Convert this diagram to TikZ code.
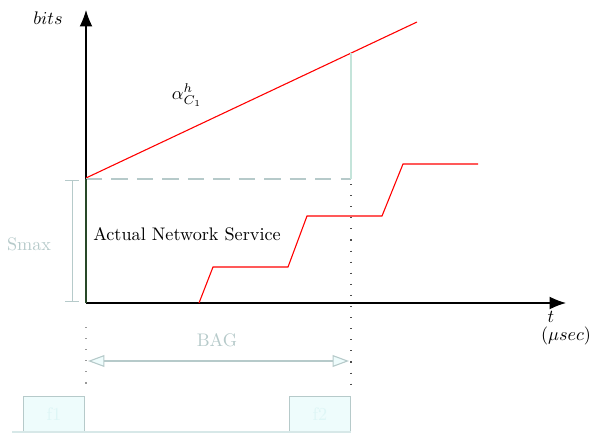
\documentclass[tikz,border=0pt]{standalone}
\usetikzlibrary{arrows.meta}
\definecolor{pale}{RGB}{182,202,202}
\definecolor{mint}{RGB}{196,228,218}
\definecolor{icecyan}{RGB}{238,252,252}
\definecolor{ghost}{RGB}{222,246,246}
\definecolor{deepgreen}{RGB}{40,72,40}
\tikzset{
  axis/.style={black, line width=0.6pt, -{Latex[length=9pt,width=7pt]}},
  curve/.style={red, line width=0.6pt},
  paleline/.style={pale, line width=0.5pt},
  dotline/.style={black!70, line width=0.6pt, dash pattern=on 0.6pt off 5.5pt},
  framebox/.style={draw=pale, fill=icecyan, line width=0.5pt, minimum width=34pt, minimum height=19.5pt, inner sep=0pt, text=ghost},
  lbl/.style={inner sep=1pt}
}
\begin{document}
\begin{tikzpicture}[x=0.55pt, y=-0.55pt]
\useasboundingbox (0,0) rectangle (593,433);
% axes
\coordinate (O) at (86,303);
\coordinate (ytop) at (86,10);
\coordinate (xend) at (566,303);
\draw[axis] (O) -- (ytop);
\draw[axis] (O) -- (xend);
\node[lbl] (bits) at (48,18) {$bits$};
\node[lbl, anchor=north] (tlab) at (551,309) {$t$};
\node[lbl, anchor=north] (unit) at (566,325) {$(\mu sec)$};
% arrival curve
\coordinate (a0) at (86,178);
\coordinate (a1) at (417,22);
\draw[curve] (a0) -- (a1);
\node[lbl] (alpha) at (187,95) {$\alpha^h_{C_1}$};
% burst level and deadline marker
\coordinate (s0) at (86,179);
\coordinate (s1) at (351,179);
\coordinate (d0) at (351,53);
\draw[pale, line width=0.6pt, dash pattern=on 9pt off 5pt] (s0) -- (s1);
\draw[mint, line width=0.6pt] (d0) -- (s1);
\draw[deepgreen, line width=0.9pt] (s0) -- (O);
% service curve (staircase)
\draw[curve] (199,303) -- (213,267) -- (288,267) -- (307,216) -- (382,216) -- (403,164) -- (478,164);
\node[lbl] (svc) at (187,234) {Actual Network Service};
% Smax bracket
\coordinate (m0) at (72,180);
\coordinate (m1) at (72,301);
\draw[paleline] (m0) -- (m1);
\draw[paleline] (65,180) -- (79,180);
\draw[paleline] (65,301) -- (79,301);
\node[lbl, text=pale] (smax) at (29,244) {Smax};
% dotted guides
\coordinate (g0) at (351,184);
\coordinate (g1) at (351,392);
\coordinate (h0) at (86,327);
\coordinate (h1) at (86,392);
\draw[dotline] (g0) -- (g1);
\draw[black!40, line width=0.6pt, dash pattern=on 0.6pt off 5.5pt] (h0) -- (h1);
% BAG interval
\coordinate (b0) at (88,361);
\coordinate (b1) at (349,361);
\draw[paleline, line width=0.6pt, {Triangle[length=9pt,width=6.5pt,fill=icecyan]}-{Triangle[length=9pt,width=6.5pt,fill=icecyan]}] (b0) -- (b1);
\node[lbl, text=pale] (bag) at (217,340) {BAG};
% frames
\node[framebox] (f1) at (54,414.5) {f1};
\node[framebox] (f2) at (320,414.5) {f2};
\coordinate (base0) at (12,432);
\coordinate (base1) at (351,432);
\draw[icecyan!60!pale, line width=0.6pt] (base0) -- (base1);
\end{tikzpicture}
\end{document}
